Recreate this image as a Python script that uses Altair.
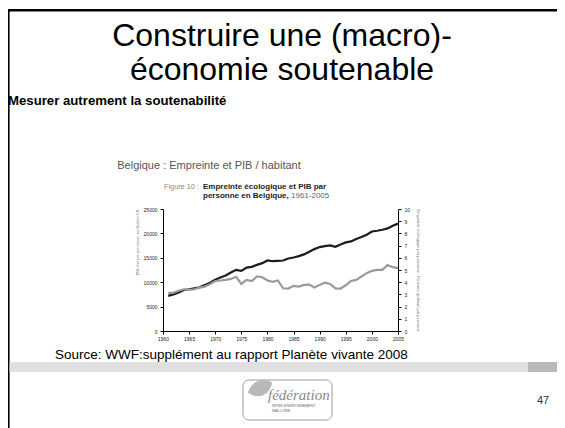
import altair as alt
import pandas as pd

years = list(range(1961, 2006))
gdp = [7200, 7500, 7900, 8400, 8550, 8750, 8970, 9400, 9900, 10500,
       10950, 11370, 12000, 12530, 12330, 13000, 13150, 13560, 13900, 14450,
       14300, 14380, 14450, 14860, 15070, 15340, 15700, 16230, 16780, 17200,
       17400, 17530, 17260, 17740, 18150, 18360, 18840, 19250, 19730, 20400,
       20550, 20750, 21030, 21575, 22000]
footprint = [3.10, 3.15, 3.30, 3.42, 3.37, 3.42, 3.56, 3.64, 3.84, 4.10,
             4.14, 4.19, 4.27, 4.44, 3.86, 4.19, 4.10, 4.47, 4.41, 4.14,
             4.03, 4.14, 3.50, 3.48, 3.70, 3.64, 3.78, 3.80, 3.56, 3.78,
             3.97, 3.86, 3.50, 3.48, 3.75, 4.10, 4.19, 4.47, 4.74, 4.93,
             5.01, 5.01, 5.40, 5.23, 5.15]
x_ticks = list(range(1960, 2006, 5))
left_ticks = [0, 5000, 10000, 15000, 20000, 25000]
right_ticks = list(range(0, 11))

df = pd.DataFrame({"year": years, "gdp": gdp, "fp": footprint})
one = pd.DataFrame({"k": [0]})

# plot area origin in page pixels
OX, OY = 163, 209
PW, PH = 235, 122
FONT = "Liberation Sans"


def X(px):
    return px - OX


def Y(py):
    return py - OY


def txt(s, px, py, size, color="#000", weight="normal", align="left",
        baseline="middle", style="normal", font=FONT, angle=0):
    return alt.Chart(one).mark_text(
        align=align, baseline=baseline, fontSize=size, color=color,
        fontWeight=weight, fontStyle=style, font=font, angle=angle
    ).encode(x=alt.value(X(px)), y=alt.value(Y(py)), text=alt.value(s))


def rect(x1, y1, x2, y2, fill, stroke=None, radius=0, sw=1):
    kw = dict(fill=fill, cornerRadius=radius)
    if stroke:
        kw.update(stroke=stroke, strokeWidth=sw)
    return alt.Chart(one).mark_rect(**kw).encode(
        x=alt.value(X(x1)), x2=alt.value(X(x2)),
        y=alt.value(Y(y1)), y2=alt.value(Y(y2)))


xenc = alt.X("year:Q", scale=alt.Scale(domain=[1960, 2005], nice=False),
             axis=alt.Axis(values=x_ticks, format="d", title=None,
                           labelFontSize=5, labelPadding=2, tickSize=3,
                           labelFlush=False))

gdp_line = alt.Chart(df).mark_line(color="#1c1c1c", strokeWidth=2.2).encode(
    x=xenc,
    y=alt.Y("gdp:Q", scale=alt.Scale(domain=[0, 25000], nice=False),
            axis=alt.Axis(orient="left", values=left_ticks, format="d",
                          title="PIB réel par personne, en Dollars US",
                          titleFontSize=4, titleFontWeight="normal",
                          titleColor="#777", titleAnchor="end",
                          titlePadding=4, labelFontSize=5, tickSize=3,
                          labelPadding=3)))

fp_line = alt.Chart(df).mark_line(color="#9a9a9a", strokeWidth=2.2).encode(
    x=xenc,
    y=alt.Y("fp:Q", scale=alt.Scale(domain=[0, 10], nice=False),
            axis=alt.Axis(orient="right", values=right_ticks, format="d",
                          title="Empreinte écologique par personne : Hectares globaux par personne",
                          titleFontSize=4, titleFontWeight="normal",
                          titleColor="#777", titleAnchor="end",
                          titleAlign="left", titleBaseline="bottom",
                          titlePadding=6, labelFontSize=5, tickSize=3,
                          labelPadding=3)))

layers = [
    # slide frame
    rect(8, 9, 565, 11.5, "#000"),
    rect(8, 9, 9.6, 428, "#000"),
    # footer band
    rect(9.6, 362, 528, 372, "#e0e0e0"),
    rect(528, 362, 565, 372, "#b9b9b9"),
    # title
    txt("Construire une (macro)-", 282, 46, 32, align="center",
        baseline="alphabetic"),
    txt("économie soutenable", 282, 80, 32, align="center",
        baseline="alphabetic"),
    txt("Mesurer autrement la soutenabilité", 8, 101, 13.2, weight="bold"),
    txt("Belgique : Empreinte et PIB / habitant", 209, 166, 11,
        color="#555", align="center"),
    txt("Figure 10 :", 164, 187, 7.3, color="#888"),
    txt("Empreinte écologique et PIB par", 203, 187, 8, weight="bold",
        color="#222"),
    txt("personne en Belgique,", 203, 196, 8, weight="bold", color="#222"),
    txt("1961-2005", 291, 196, 8, color="#666"),
    # source
    txt("Source: WWF:supplément au rapport Planète vivante 2008", 55, 355,
        13.5),
    # logo
    rect(243, 380, 332, 420, "#fff", stroke="#9a9a9a", radius=6, sw=1),
    alt.Chart(one).mark_point(
        shape="M -1 0.2 C -0.6 -0.9 0.4 -1 1 -0.6 C 0.8 0.3 0 0.9 -1 0.2 Z",
        filled=True, color="#b8b8b8", opacity=1, size=600
    ).encode(x=alt.value(X(260)), y=alt.value(Y(390))),
    txt("fédération", 268, 395, 15, color="#8a8a8a", style="italic",
        font="Liberation Serif"),
    txt("INTER-ENVIRONNEMENT", 272, 406, 3.6, color="#666"),
    txt("WALLONIE", 272, 411, 3.6, color="#666"),
    txt("47", 543, 401, 11, color="#333", align="center"),
    gdp_line,
    fp_line,
]

chart = alt.layer(*layers).resolve_scale(y="independent").properties(
    width=PW, height=PH,
    autosize=alt.AutoSizeParams(type="none"),
    padding={"left": OX - 8, "top": OY - 8,
             "right": 549 - (OX - 8) - PW, "bottom": 420 - (OY - 8) - PH},
    background="white",
).configure_view(stroke=None).configure_axis(
    grid=False, domainColor="#000", tickColor="#000", labelColor="#222",
    labelFont=FONT, titleFont=FONT, domainWidth=1, tickWidth=1
)

chart.save("out.html", embed_options={"renderer": "svg", "actions": False})
